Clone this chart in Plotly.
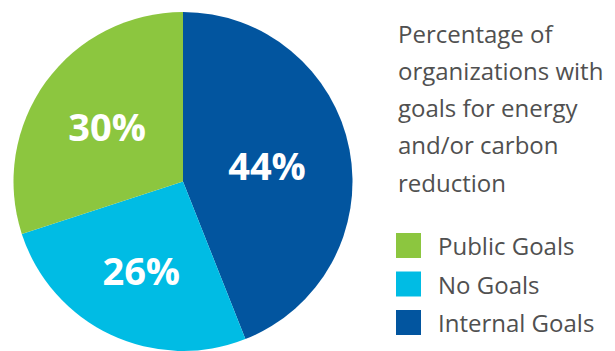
import plotly.graph_objects as go

labels = ["Internal Goals", "No Goals", "Public Goals"]
values = [44, 26, 30]
colors = ["#02559F", "#00BCE4", "#8CC63F"]
legend_order = ["Public Goals", "No Goals", "Internal Goals"]
title_lines = ["Percentage of", "organizations with", "goals for energy", "and/or carbon", "reduction"]

W, H = 615, 351
fig = go.Figure()
fig.add_trace(go.Pie(
    labels=labels, values=values, sort=False, direction="clockwise", rotation=0,
    marker=dict(colors=colors, line=dict(width=0)),
    texttemplate="%{percent:.0%}", textposition="inside", insidetextorientation="horizontal",
    textfont=dict(family="Open Sans", size=38, color="white", weight="bold"),
    domain=dict(x=[(183 - 169.5) / W, (183 + 169.5) / W], y=[0, 339 / H]),
    showlegend=False, hoverinfo="label+percent",
))

text_color = "#505050"
# title lines
for i, line in enumerate(title_lines):
    yc = 33 + i * 37.3
    fig.add_annotation(x=396 / W, y=1 - yc / H, xref="paper", yref="paper",
                       text=line, showarrow=False, xanchor="left", yanchor="middle",
                       font=dict(family="Open Sans", size=24, color=text_color))

# legend
cmap = dict(zip(labels, colors))
for i, lab in enumerate(legend_order):
    top = 233 + i * 38.5
    fig.add_shape(type="rect", xref="paper", yref="paper",
                  x0=396 / W, x1=421 / W, y0=1 - top / H, y1=1 - (top + 25) / H,
                  fillcolor=cmap[lab], line=dict(width=0))
    fig.add_annotation(x=436 / W, y=1 - (top + 12.5) / H, xref="paper", yref="paper",
                       text=lab, showarrow=False, xanchor="left", yanchor="middle",
                       font=dict(family="Open Sans", size=24, color=text_color))

fig.update_layout(width=W, height=H, margin=dict(l=0, r=0, t=0, b=0),
                  paper_bgcolor="white", plot_bgcolor="white")
fig.write_html("out.html")
